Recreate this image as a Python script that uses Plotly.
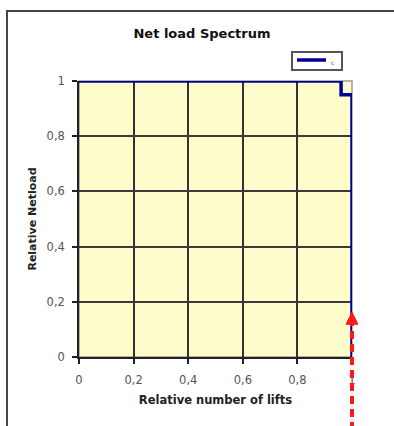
import plotly.graph_objects as go

# Data
rel_lifts = [0.0, 0.96, 0.96, 1.0, 1.0]
rel_netload = [1.0, 1.0, 0.95, 0.95, 0.0]
series_name = "c"
x_tick_vals = [0, 0.2, 0.4, 0.6, 0.8, 1.0]
x_tick_text = ["0", "0,2", "0,4", "0,6", "0,8", "1"]
y_tick_vals = [0, 0.2, 0.4, 0.6, 0.8, 1.0]
y_tick_text = ["0", "0,2", "0,4", "0,6", "0,8", "1"]
arrow_x = 1.0
arrow_tip_y = 0.162

W, H = 394, 426
L, R, T, B = 79, 42, 81, 69
pw = W - L - R
ph = H - T - B

def px_x(p):
    return (p - L) / pw

def px_y(p):
    return (H - B - p) / ph

FONT = "DejaVu Sans, Liberation Sans, Arial, sans-serif"

fig = go.Figure()
fig.add_trace(go.Scatter(
    x=rel_lifts, y=rel_netload, mode="lines", name=series_name,
    line=dict(color="#000090", width=3.5), cliponaxis=False, showlegend=False,
))

head_h = 12 / ph
head_w = 6 / pw
shapes = [
    # plot area border
    dict(type="rect", xref="paper", yref="paper", x0=0, y0=0, x1=1, y1=1,
         line=dict(color="#9a9a9a", width=1.5), layer="below"),
    # outer chart frame
    dict(type="rect", xref="paper", yref="paper",
         x0=px_x(7), y0=px_y(440), x1=px_x(420), y1=px_y(11),
         line=dict(color="#444444", width=2)),
    # red dashed arrow shaft
    dict(type="line", xref="paper", yref="paper", x0=arrow_x, x1=arrow_x,
         y0=px_y(430), y1=arrow_tip_y - head_h,
         line=dict(color="#ff1a1a", width=4, dash="8px,5px")),
    # arrow head
    dict(type="path", xref="paper", yref="paper",
         path=f"M {arrow_x - head_w},{arrow_tip_y - head_h} L {arrow_x},{arrow_tip_y} "
              f"L {arrow_x + head_w},{arrow_tip_y - head_h} Z",
         fillcolor="#ff1a1a", line=dict(color="#ff1a1a", width=1)),
    # legend box
    dict(type="rect", xref="paper", yref="paper",
         x0=px_x(292), x1=px_x(342), y0=px_y(70), y1=px_y(52),
         line=dict(color="#555555", width=2), fillcolor="white"),
    # legend sample line
    dict(type="line", xref="paper", yref="paper",
         x0=px_x(297), x1=px_x(326), y0=px_y(60), y1=px_y(60),
         line=dict(color="#000090", width=3.5)),
]

annotations = [
    dict(x=px_x(332), y=px_y(63), xref="paper", yref="paper", text=series_name,
         showarrow=False, xanchor="center", yanchor="middle",
         font=dict(size=6, color="#666666", family=FONT)),
]

fig.update_layout(
    width=W, height=H,
    margin=dict(l=L, r=R, t=T, b=B),
    paper_bgcolor="white",
    plot_bgcolor="#fffccc",
    separators=", ",
    font=dict(family=FONT, color="#222222"),
    title=dict(text="<b>Net load Spectrum</b>", x=202 / W, xanchor="center",
               y=1 - 33 / H, yanchor="middle", xref="container", yref="container",
               font=dict(size=13, color="#111111", family=FONT)),
    showlegend=False,
    shapes=shapes,
    annotations=annotations,
    xaxis=dict(range=[0, 1], tickvals=x_tick_vals, ticktext=x_tick_text,
               showgrid=True, gridcolor="#333333", gridwidth=1.6,
               zeroline=False, showline=True, linecolor="#222222", linewidth=1.6,
               ticks="outside", ticklen=5, tickcolor="#222222", tickwidth=1.5,
               ticklabelstandoff=6,
               tickfont=dict(size=11.5, color="#555555"),
               title=dict(text="<b>Relative number of lifts</b>",
                          font=dict(size=11.5, color="#222222"), standoff=10)),
    yaxis=dict(range=[0, 1], tickvals=y_tick_vals, ticktext=y_tick_text,
               showgrid=True, gridcolor="#3a3a3a", gridwidth=1.6,
               zeroline=False, showline=True, linecolor="#222222", linewidth=1.6,
               ticks="outside", ticklen=5, tickcolor="#222222", tickwidth=1.5,
               ticklabelstandoff=5,
               tickfont=dict(size=11.5, color="#555555"),
               title=dict(text="<b>Relative Netload</b>",
                          font=dict(size=11, color="#222222"), standoff=8)),
)

fig.write_html("out.html", config={"displayModeBar": False},
               post_script="document.body.style.margin='0px';document.body.style.overflow='hidden';")
